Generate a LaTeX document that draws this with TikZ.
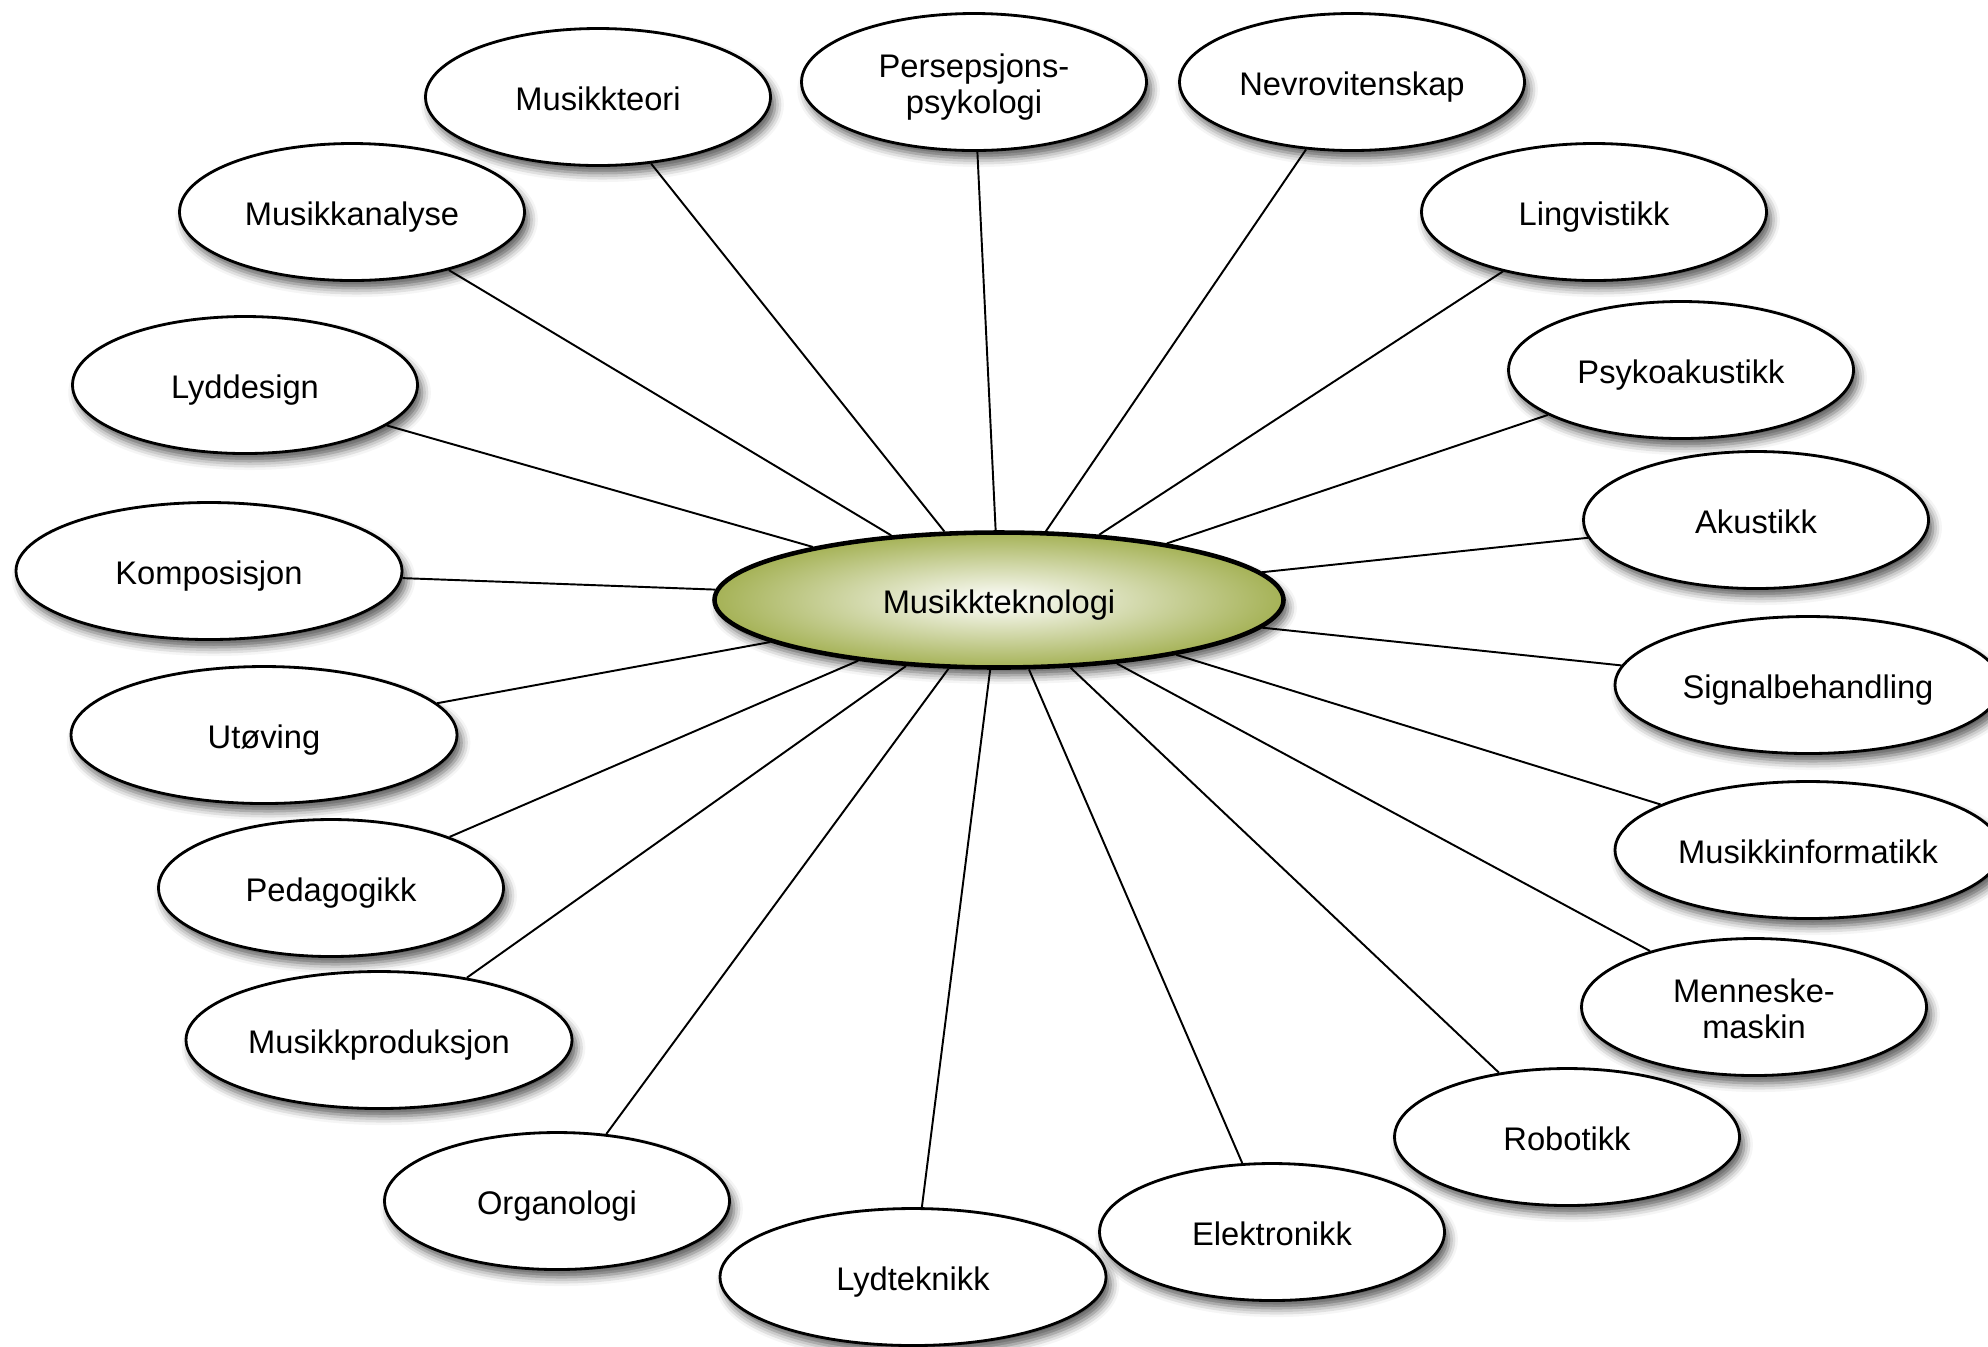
\documentclass[tikz,border=0pt]{standalone}
\usepackage{fontspec}
\setmainfont{Liberation Sans}
\usetikzlibrary{shapes.geometric,shadows.blur}
\definecolor{olivegreen}{RGB}{165,178,86}
\begin{document}
\begin{tikzpicture}[x=0.1mm, y=-0.1mm,
        topic/.style={ellipse, draw, line width=0.8pt, fill=white, inner sep=0pt,
            minimum width=3.45cm, minimum height=1.37cm, align=center,
            font=\fontsize{9.3}{10.2}\selectfont, text height=8.4pt, text depth=0.9pt,
            blur shadow={shadow xshift=1.3pt, shadow yshift=-2.2pt, shadow blur radius=2.5pt, shadow opacity=65}},
        twoline/.style={text height=18.6pt},
        wide/.style={minimum width=3.86cm},
        hub/.style={topic, line width=1.3pt, minimum width=5.69cm, minimum height=1.35cm,
            inner color=white, outer color=olivegreen},
        link/.style={line width=0.55pt}]
        \useasboundingbox (0,0) rectangle (1988,1346);

        \node[hub] (tek) at (999,600) {Musikkteknologi};

        \node[topic] (teori) at (598,97) {Musikkteori};
        \node[topic, twoline] (persep) at (974,82) {Persepsjons-\\psykologi};
        \node[topic] (nevro) at (1352,82) {Nevrovitenskap};
        \node[topic] (ling) at (1594,212) {Lingvistikk};
        \node[topic] (psyko) at (1681,370) {Psykoakustikk};
        \node[topic] (akust) at (1756,520) {Akustikk};
        \node[topic, wide] (signal) at (1808,685) {Signalbehandling};
        \node[topic, wide] (info) at (1808,850) {Musikkinformatikk};
        \node[topic, twoline] (mm) at (1754,1007) {Menneske-\\maskin};
        \node[topic] (robot) at (1567,1137) {Robotikk};
        \node[topic] (elek) at (1272,1232) {Elektronikk};
        \node[topic, wide] (lydtek) at (913,1277) {Lydteknikk};
        \node[topic] (organ) at (557,1201) {Organologi};
        \node[topic, wide] (prod) at (379,1040) {Musikkproduksjon};
        \node[topic] (ped) at (331,888) {Pedagogikk};
        \node[topic, wide] (utov) at (264,735) {Utøving};
        \node[topic, wide] (komp) at (209,571) {Komposisjon};
        \node[topic] (lyddes) at (245,385) {Lyddesign};
        \node[topic] (analyse) at (352,212) {Musikkanalyse};

        \draw[link] (tek) -- (teori);
        \draw[link] (tek) -- (persep);
        \draw[link] (tek) -- (nevro);
        \draw[link] (tek) -- (ling);
        \draw[link] (tek) -- (psyko);
        \draw[link] (tek) -- (akust);
        \draw[link] (tek) -- (signal);
        \draw[link] (tek) -- (info);
        \draw[link] (tek) -- (mm);
        \draw[link] (tek) -- (robot);
        \draw[link] (tek) -- (elek);
        \draw[link] (tek) -- (lydtek);
        \draw[link] (tek) -- (organ);
        \draw[link] (tek) -- (prod);
        \draw[link] (tek) -- (ped);
        \draw[link] (tek) -- (utov);
        \draw[link] (tek) -- (komp);
        \draw[link] (tek) -- (lyddes);
        \draw[link] (tek) -- (analyse);
    \end{tikzpicture}
\end{document}
